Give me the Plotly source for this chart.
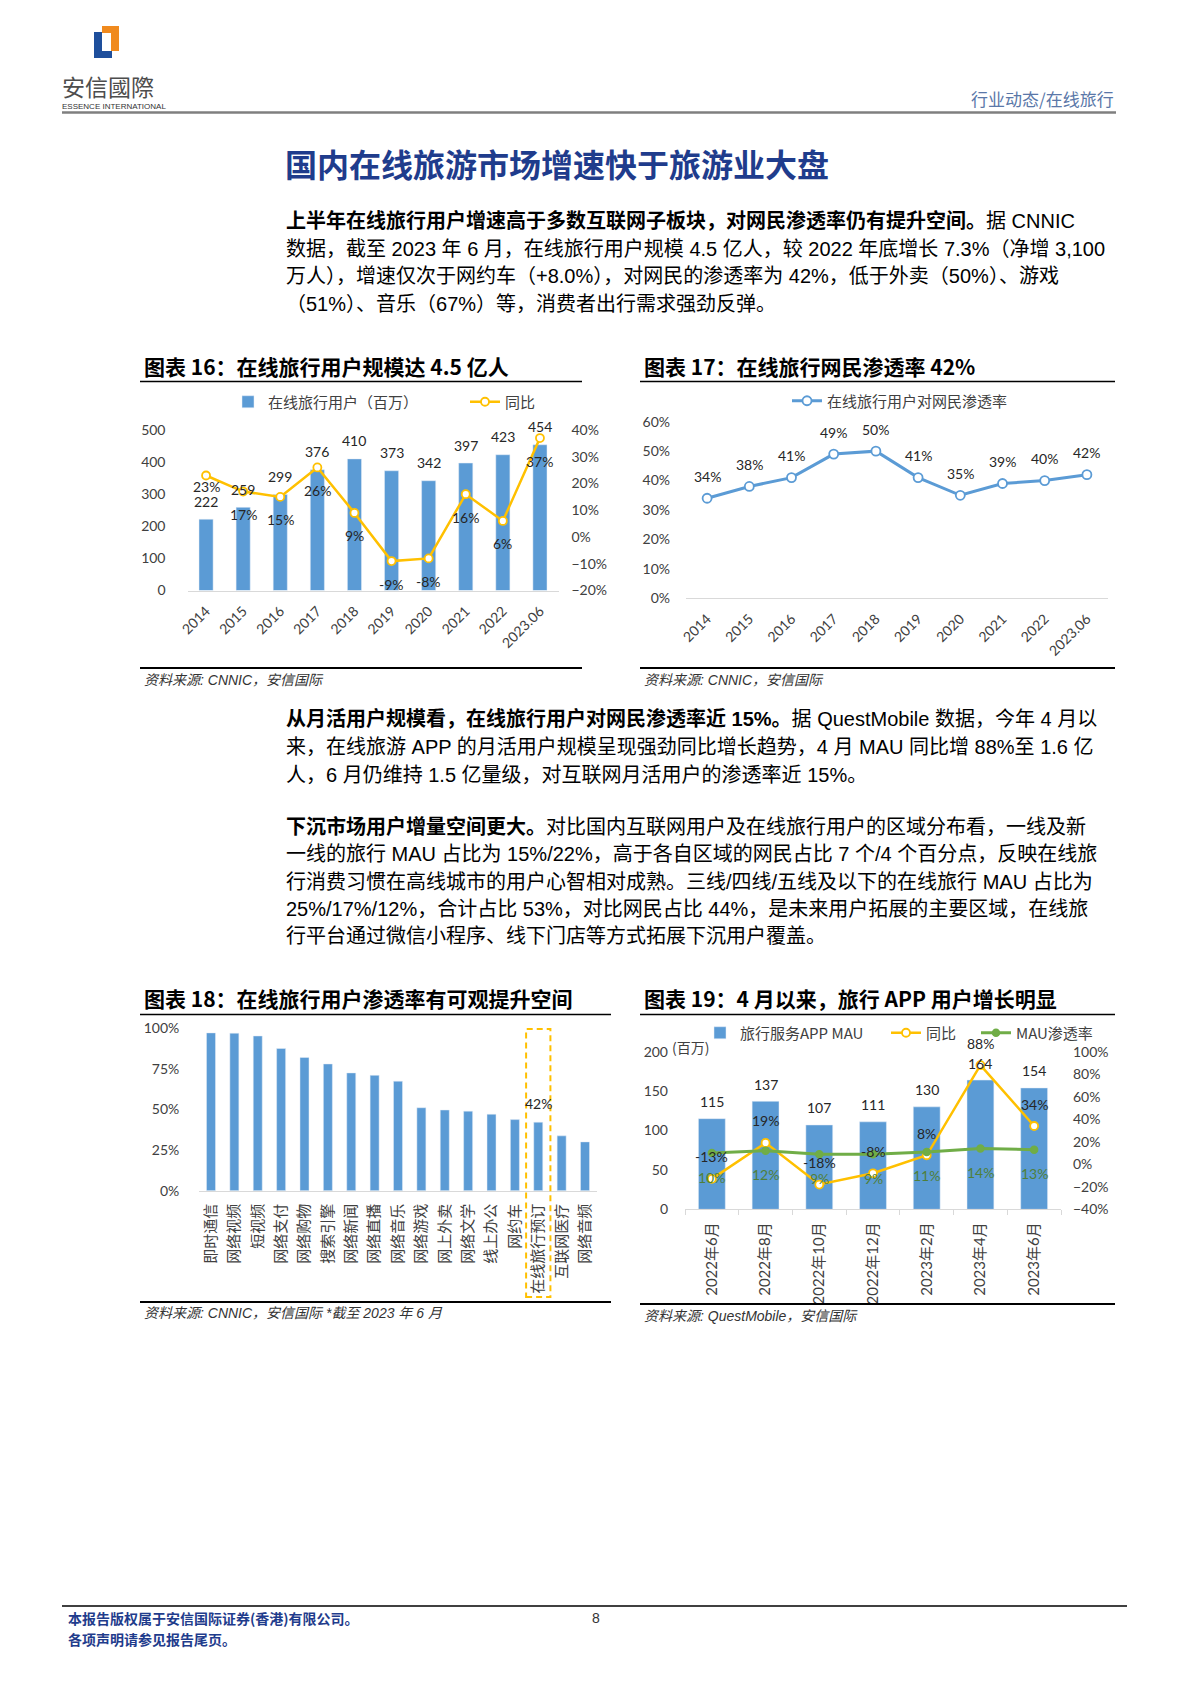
import plotly.graph_objects as go

W, H = 1190, 1683


def fx(px):
    return px / W


def fy(py):
    return 1 - py / H


# ---------------- data ----------------
# Chart 16 / 17
years = ["2014", "2015", "2016", "2017", "2018", "2019", "2020", "2021", "2022", "2023.06"]
travel_users = [222, 259, 299, 376, 410, 373, 342, 397, 423, 454]
travel_users_yoy = [0.23, 0.17, 0.15, 0.26, 0.09, -0.09, -0.08, 0.16, 0.06, 0.37]
netizen_penetration = [0.34, 0.38, 0.41, 0.49, 0.50, 0.41, 0.35, 0.39, 0.40, 0.42]

# Chart 18
apps = ["即时通信", "网络视频", "短视频", "网络支付", "网络购物", "搜索引擎", "网络新闻",
        "网络直播", "网络音乐", "网络游戏", "网上外卖", "网络文学", "线上办公", "网约车",
        "在线旅行预订", "互联网医疗", "网络音频"]
app_penetration = [0.970, 0.968, 0.951, 0.874, 0.819, 0.779, 0.724, 0.709, 0.673, 0.510,
                   0.496, 0.489, 0.470, 0.437, 0.421, 0.337, 0.300]
highlight_app = "在线旅行预订"

# Chart 19
months = ["2022年6月", "2022年8月", "2022年10月", "2022年12月", "2023年2月", "2023年4月", "2023年6月"]
app_mau = [115, 137, 107, 111, 130, 164, 154]
app_mau_yoy = [-0.13, 0.19, -0.18, -0.08, 0.08, 0.88, 0.34]
app_mau_penetration = [0.10, 0.12, 0.09, 0.09, 0.11, 0.14, 0.13]

# ---------------- styles ----------------
FONT = "Lato, Noto Sans CJK SC, sans-serif"
CJK = "Noto Sans CJK SC, sans-serif"
BODY = "Liberation Sans, Noto Sans CJK SC, sans-serif"
BLUE = "#5B9BD5"
GOLD = "#FFC000"
GREEN = "#70AD47"
TXT = "#262626"
AX = "#404040"
LINE = "#D9D9D9"
NAVY = "#1F3C8C"

fig = go.Figure()

# Chart 16
fig.add_trace(go.Bar(x=years, y=travel_users, xaxis="x", yaxis="y", width=0.38,
                     marker=dict(color=BLUE), name="在线旅行用户（百万）", legend="legend",
                     legendwidth=192))
fig.add_trace(go.Scatter(x=years, y=travel_users_yoy, xaxis="x", yaxis="y2", mode="lines+markers",
                         line=dict(color=GOLD, width=2.5),
                         marker=dict(symbol="circle", size=8, color="white", line=dict(color=GOLD, width=1.8)),
                         name="同比", legend="legend", cliponaxis=False))
# Chart 17
fig.add_trace(go.Scatter(x=years, y=netizen_penetration, xaxis="x2", yaxis="y3", mode="lines+markers",
                         line=dict(color=BLUE, width=3),
                         marker=dict(symbol="circle", size=9, color="white", line=dict(color=BLUE, width=1.8)),
                         name="在线旅行用户对网民渗透率", legend="legend2", cliponaxis=False))
# Chart 18
fig.add_trace(go.Bar(x=apps, y=app_penetration, xaxis="x3", yaxis="y4", width=0.385,
                     marker=dict(color=BLUE), name="渗透率", showlegend=False))
# Chart 19
fig.add_trace(go.Bar(x=months, y=app_mau, xaxis="x4", yaxis="y5", width=0.5,
                     marker=dict(color=BLUE), name="旅行服务APP MAU", legend="legend3",
                     legendwidth=141))
fig.add_trace(go.Scatter(x=months, y=app_mau_yoy, xaxis="x4", yaxis="y6", mode="lines+markers",
                         line=dict(color=GOLD, width=2.5),
                         marker=dict(symbol="circle", size=8, color="white", line=dict(color=GOLD, width=1.8)),
                         name="同比", legend="legend3", legendwidth=45, cliponaxis=False))
fig.add_trace(go.Scatter(x=months, y=app_mau_penetration, xaxis="x4", yaxis="y6", mode="lines+markers",
                         line=dict(color=GREEN, width=3),
                         marker=dict(symbol="circle", size=7, color=GREEN, line=dict(color=GREEN, width=1.5)),
                         name="MAU渗透率", legend="legend3", cliponaxis=False))

tickfont = dict(family=FONT, size=14, color=AX)
base_x = dict(type="category", showline=True, linecolor=LINE, linewidth=1, showgrid=False,
              zeroline=False, tickfont=tickfont, fixedrange=True, automargin=False)
base_y = dict(showline=False, showgrid=False, zeroline=False, tickfont=tickfont, ticks="",
              fixedrange=True, automargin=False)

layout = dict(
    width=W, height=H, margin=dict(l=0, r=0, t=0, b=0, pad=0, autoexpand=False),
    paper_bgcolor="white", plot_bgcolor="rgba(0,0,0,0)",
    font=dict(family=FONT, size=14, color=TXT),
    showlegend=True, hovermode=False,
    # chart 16
    xaxis=dict(base_x, domain=[fx(187.5), fx(558.5)], anchor="y", tickangle=-45, ticks="",
               ticklabelstandoff=6, range=[-0.5, len(years) - 0.5]),
    yaxis=dict(base_y, domain=[fy(590.5), fy(430)], anchor="x", range=[0, 500], dtick=100,
               ticklabelstandoff=21),
    yaxis2=dict(base_y, overlaying="y", side="right", anchor="x", range=[-0.2, 0.4], dtick=0.1,
                tickformat=".0%", ticklabelstandoff=12),
    # chart 17
    xaxis2=dict(base_x, domain=[fx(686), fx(1108)], anchor="y3", tickangle=-45, ticks="",
                ticklabelstandoff=6, range=[-0.5, len(years) - 0.5]),
    yaxis3=dict(base_y, domain=[fy(598.3), fy(421.7)], anchor="x2", range=[0, 0.6], dtick=0.1,
                tickformat=".0%", ticklabelstandoff=15),
    # chart 18
    xaxis3=dict(base_x, domain=[fx(199.3), fx(596.7)], anchor="y4", tickangle=-90, ticks="",
                tickfont=dict(family=CJK, size=15, color=AX), ticklabelstandoff=6,
                range=[-0.5, len(apps) - 0.5]),
    yaxis4=dict(base_y, domain=[fy(1190.7), fy(1028)], anchor="x3", range=[0, 1.0], dtick=0.25,
                tickformat=".0%", ticklabelstandoff=19),
    # chart 19
    xaxis4=dict(base_x, domain=[fx(685), fx(1061)], anchor="y5", tickangle=-90, ticks="outside",
                tickson="boundaries", ticklen=5, tickcolor=LINE,
                tickfont=dict(family=FONT, size=15, color=AX), ticklabelstandoff=6,
                range=[-0.5, len(months) - 0.5]),
    yaxis5=dict(base_y, domain=[fy(1209.3), fy(1051.7)], anchor="x4", range=[0, 200], dtick=50,
                ticklabelstandoff=16),
    yaxis6=dict(base_y, overlaying="y5", side="right", anchor="x4", range=[-0.4, 1.0], dtick=0.2,
                tickformat=".0%", ticklabelstandoff=11),
    legend=dict(orientation="h", x=fx(228), y=fy(402), xanchor="left", yanchor="middle",
                bgcolor="rgba(0,0,0,0)", font=dict(family=CJK, size=15, color=AX), traceorder="normal"),
    legend2=dict(orientation="h", x=fx(787), y=fy(401), xanchor="left", yanchor="middle",
                 bgcolor="rgba(0,0,0,0)", font=dict(family=CJK, size=15, color=AX)),
    legend3=dict(orientation="h", x=fx(700), y=fy(1033), xanchor="left", yanchor="middle",
                 bgcolor="rgba(0,0,0,0)", font=dict(family=CJK, size=15, color=AX), traceorder="normal"),
)

ann = []


def dlab(x, y, text, xref, yref, yshift, color=TXT, size=14):
    ann.append(dict(x=x, y=y, xref=xref, yref=yref, text=text, showarrow=False, yshift=yshift,
                    xanchor="center", yanchor="middle", font=dict(family=FONT, size=size, color=color)))


def txt(x, y, s, size, color="#000000", family=BODY, xanchor="left"):
    ann.append(dict(x=fx(x), y=fy(y), xref="paper", yref="paper", text=s, showarrow=False,
                    xanchor=xanchor, yanchor="middle", font=dict(family=family, size=size, color=color)))


# label offsets (px); the first YoY label of chart 16 sits closer to its point, as in the source
yoy16_shift = {0: -11}

# data labels (x given as category index so numeric-looking categories stay categorical)
for i, v in enumerate(travel_users):
    dlab(i, v, str(v), "x", "y", 18)
for i, v in enumerate(travel_users_yoy):
    dlab(i, v, f"{v:.0%}", "x", "y2", yoy16_shift.get(i, -23))
for i, v in enumerate(netizen_penetration):
    dlab(i, v, f"{v:.0%}", "x2", "y3", 22)
hi = apps.index(highlight_app)
dlab(hi, app_penetration[hi], f"{app_penetration[hi]:.0%}", "x3", "y4", 19)
for i, v in enumerate(app_mau):
    dlab(i, v, str(v), "x4", "y5", 17)
for i, v in enumerate(app_mau_yoy):
    dlab(i, v, f"{v:.0%}", "x4", "y6", 22)
for i, v in enumerate(app_mau_penetration):
    dlab(i, v, f"{v:.0%}", "x4", "y6", -24, color="#4F7F3A")

# header
txt(60, 86, "安信國際", 23, "#4D4D4D", CJK)
txt(60, 106.5, "ESSENCE INTERNATIONAL", 8, "#333333", "Liberation Sans")
txt(1116, 98, "行业动态/在线旅行", 17, "#5A77A8", CJK, xanchor="right")
txt(283, 163, "<b>国内在线旅游市场增速快于旅游业大盘</b>", 32, NAVY, CJK)

# paragraphs
para = [
    (221, "<b>上半年在线旅行用户增速高于多数互联网子板块，对网民渗透率仍有提升空间。</b>据 CNNIC"),
    (249, "数据，截至 2023 年 6 月，在线旅行用户规模 4.5 亿人，较 2022 年底增长 7.3%（净增 3,100"),
    (276, "万人），增速仅次于网约车（+8.0%），对网民的渗透率为 42%，低于外卖（50%）、游戏"),
    (304, "（51%）、音乐（67%）等，消费者出行需求强劲反弹。"),
    (719, "<b>从月活用户规模看，在线旅行用户对网民渗透率近 15%。</b>据 QuestMobile 数据，今年 4 月以"),
    (747, "来，在线旅游 APP 的月活用户规模呈现强劲同比增长趋势，4 月 MAU 同比增 88%至 1.6 亿"),
    (775, "人，6 月仍维持 1.5 亿量级，对互联网月活用户的渗透率近 15%。"),
    (826, "<b>下沉市场用户增量空间更大。</b>对比国内互联网用户及在线旅行用户的区域分布看，一线及新"),
    (854, "一线的旅行 MAU 占比为 15%/22%，高于各自区域的网民占比 7 个/4 个百分点，反映在线旅"),
    (882, "行消费习惯在高线城市的用户心智相对成熟。三线/四线/五线及以下的在线旅行 MAU 占比为"),
    (909, "25%/17%/12%，合计占比 53%，对比网民占比 44%，是未来用户拓展的主要区域，在线旅"),
    (936, "行平台通过微信小程序、线下门店等方式拓展下沉用户覆盖。"),
]
for y, s in para:
    txt(284, y, s, 20, "#000000", BODY)

# chart titles
txt(142, 366, "<b>图表 16：在线旅行用户规模达 4.5 亿人</b>", 21, "#000000", CJK)
txt(642, 366, "<b>图表 17：在线旅行网民渗透率 42%</b>", 21, "#000000", CJK)
txt(142, 998, "<b>图表 18：在线旅行用户渗透率有可观提升空间</b>", 21, "#000000", CJK)
txt(642, 998, "<b>图表 19：4 月以来，旅行 APP 用户增长明显</b>", 21, "#000000", CJK)

# sources
txt(142, 680, "<i>资料来源: CNNIC，安信国际</i>", 14, "#333333", BODY)
txt(642, 680, "<i>资料来源: CNNIC，安信国际</i>", 14, "#333333", BODY)
txt(142, 1313, "<i>资料来源: CNNIC，安信国际 *截至 2023 年 6 月</i>", 14, "#333333", BODY)
txt(642, 1316, "<i>资料来源: QuestMobile，安信国际</i>", 14, "#333333", BODY)

# unit label chart 19
txt(670, 1047, "(百万)", 14, AX, CJK)

# footer
txt(66, 1618, "<b>本报告版权属于安信国际证券(香港)有限公司。</b>", 14, NAVY, CJK)
txt(66, 1639, "<b>各项声明请参见报告尾页。</b>", 14, NAVY, CJK)
txt(596, 1618, "8", 14, "#333333", BODY, xanchor="center")

shapes = []


def hline(x0, x1, y, color, width):
    shapes.append(dict(type="line", xref="paper", yref="paper", x0=fx(x0), x1=fx(x1),
                       y0=fy(y), y1=fy(y), line=dict(color=color, width=width)))


def box(x0, y0, x1, y1, color):
    shapes.append(dict(type="rect", xref="paper", yref="paper", x0=fx(x0), x1=fx(x1),
                       y0=fy(y1), y1=fy(y0), fillcolor=color, line=dict(width=0)))


# logo
box(94, 32, 102, 58, "#1E4F9C")
box(94, 51, 112, 58, "#1E4F9C")
box(102, 26, 119, 33, "#F08A1E")
box(111, 26, 119, 51, "#F08A1E")

hline(62, 1116, 112.5, "#7F7F7F", 2.5)
hline(140, 582, 381.5, "#000000", 1.3)
hline(640, 1115, 381.5, "#000000", 1.3)
hline(140, 582, 668, "#000000", 2)
hline(640, 1115, 668, "#000000", 2)
hline(140, 611, 1014.5, "#000000", 1.3)
hline(640, 1115, 1014.5, "#000000", 1.3)
hline(140, 611, 1302, "#000000", 2)
hline(640, 1115, 1304, "#000000", 2)
hline(62, 1127, 1606, "#000000", 1.3)

# highlight box around the online travel bar
shapes.append(dict(type="rect", xref="x3", yref="paper", x0=hi - 0.52, x1=hi + 0.52,
                   y0=fy(1297), y1=fy(1029), fillcolor="rgba(0,0,0,0)",
                   line=dict(color=GOLD, width=2, dash="6px,4px")))

layout["annotations"] = ann
layout["shapes"] = shapes
fig.update_layout(**layout)

fig.write_html("out.html", config={"displayModeBar": False, "responsive": False},
               post_script="document.body.style.margin='0';document.body.style.overflow='hidden';")
